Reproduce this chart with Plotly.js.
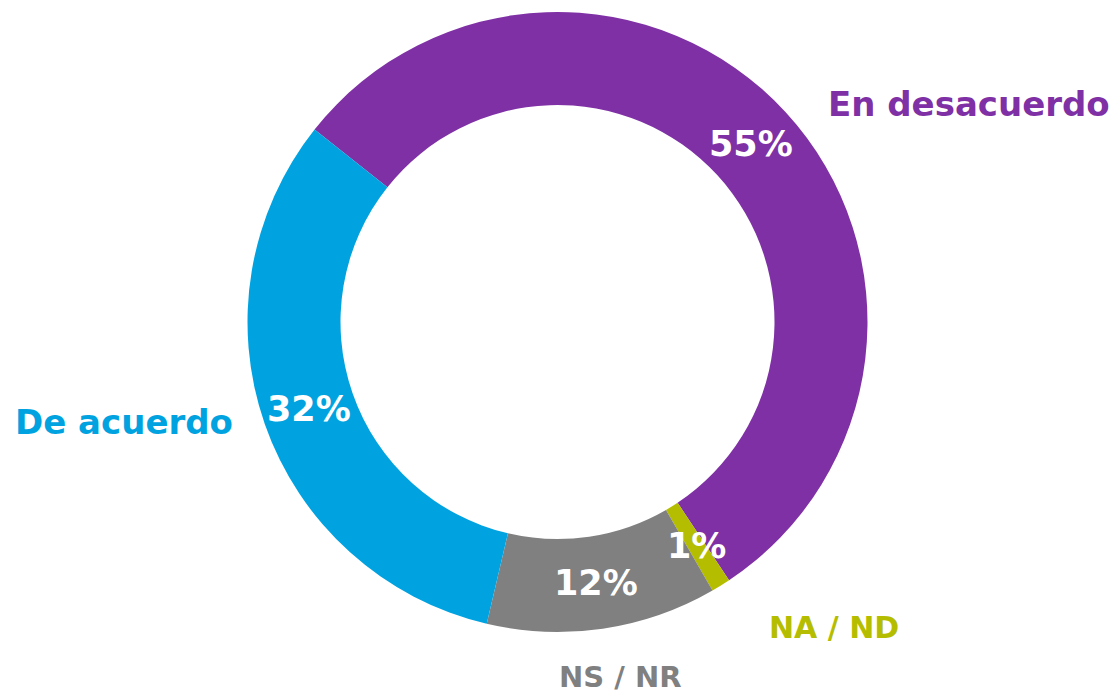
<!DOCTYPE html>
<html>
<head>
<meta charset="utf-8">
<script src="https://cdn.plot.ly/plotly-3.0.1.min.js"></script>
<style>html,body{margin:0;padding:0;background:#fff;}#chart{width:1119px;height:693px;}</style>
</head>
<body>
<div id="chart"></div>
<script>
const categories = ["En desacuerdo", "NA / ND", "NS / NR", "De acuerdo"];
const values = [55, 1, 12, 32];
const percentLabels = ["55%", "1%", "12%", "32%"];
const colors = ["#7F30A5", "#B5BD00", "#808080", "#00A3E0"];

const W = 1119, H = 693;
const cx = 557.5, cy = 322, R = 310, holeRatio = 0.70;
const rotation = -51.6;

// outside category label placement (pixels) and sizes
const labelPos = [[969, 104], [834, 627], [620, 677], [124, 422]];
const labelSize = [34, 30, 29, 34];
const FONT = "DejaVu Sans, sans-serif";

const total = values.reduce((a, b) => a + b, 0);
const annotations = [];
let acc = 0;
const midR = R * (1 + holeRatio) / 2;
values.forEach((v, i) => {
  const midDeg = rotation + (acc + v / 2) / total * 360;
  acc += v;
  const a = midDeg * Math.PI / 180;
  const px = cx + midR * Math.sin(a);
  const py = cy - midR * Math.cos(a);
  annotations.push({
    x: px / W, y: 1 - py / H, xref: "paper", yref: "paper",
    text: percentLabels[i], showarrow: false, xanchor: "center", yanchor: "middle",
    font: {family: FONT, size: 35, color: "#ffffff", weight: 700}
  });
  annotations.push({
    x: labelPos[i][0] / W, y: 1 - labelPos[i][1] / H, xref: "paper", yref: "paper",
    text: categories[i], showarrow: false, xanchor: "center", yanchor: "middle",
    font: {family: FONT, size: labelSize[i], color: colors[i], weight: 700}
  });
});

const data = [{
  type: "pie",
  labels: categories,
  values: values,
  hole: holeRatio,
  sort: false,
  direction: "clockwise",
  rotation: rotation,
  marker: {colors: colors, line: {width: 0}},
  textinfo: "none",
  hoverinfo: "label+percent",
  domain: {x: [(cx - R) / W, (cx + R) / W], y: [1 - (cy + R) / H, 1 - (cy - R) / H]}
}];

const layout = {
  width: W, height: H,
  margin: {l: 0, r: 0, t: 0, b: 0},
  paper_bgcolor: "#ffffff",
  showlegend: false,
  annotations: annotations
};

Plotly.newPlot("chart", data, layout, {displayModeBar: false, staticPlot: true});
</script>
</body>
</html>
